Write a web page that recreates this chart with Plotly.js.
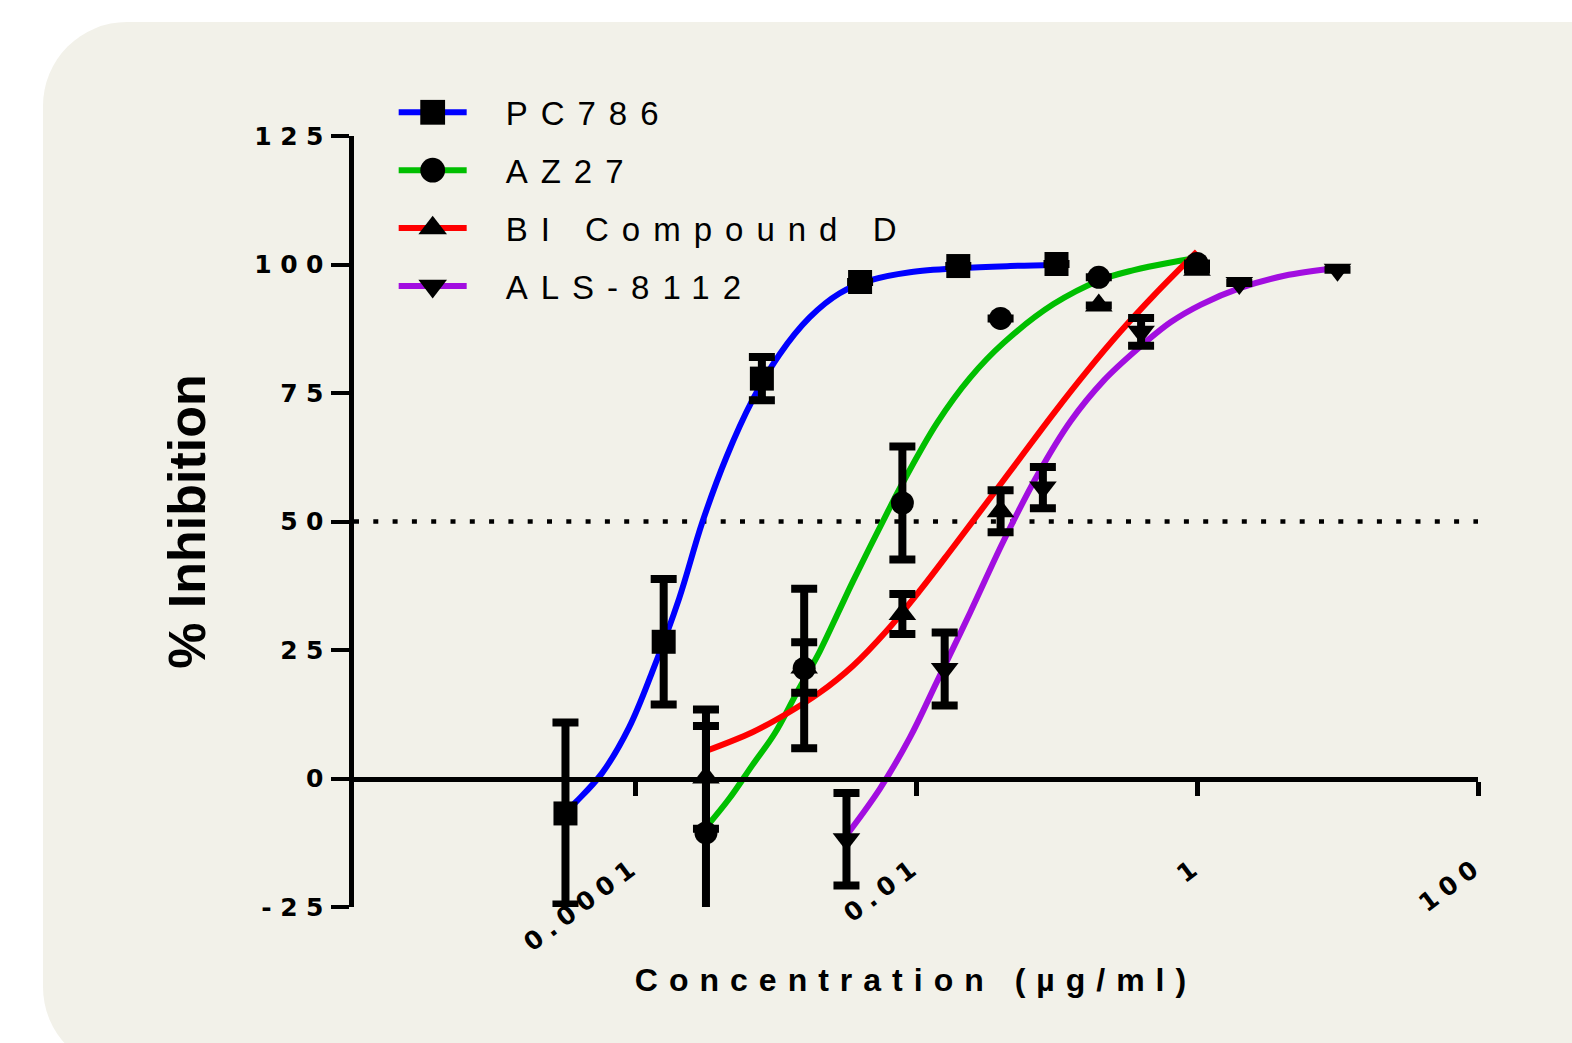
<!DOCTYPE html>
<html>
<head>
<meta charset="utf-8">
<script src="https://cdn.plot.ly/plotly-3.0.1.min.js"></script>
<style>
  html, body { margin: 0; padding: 0; background: #ffffff; overflow: hidden; }
  #panel { position: absolute; left: 43px; top: 22px; width: 1620px; height: 1049px; border-radius: 84px; background: #f2f1e9; }
  #chart { position: absolute; left: 0; top: 0; width: 1572px; height: 1043px; }
  .ytick text, text.ytick { letter-spacing: 8.5px; }
  .xtick text, text.xtick { letter-spacing: 7px; }
  .legendtext { letter-spacing: 13px; }
  .xtitle { letter-spacing: 11px; }
</style>
</head>
<body>
<div id="panel"></div>
<div id="chart"></div>
<script>
// ---- series meta ----
const seriesNames = ['PC786', 'AZ27', 'BI Compound D', 'ALS-8112'];
const seriesColors = ['#0000ff', '#00bf00', '#ff0000', '#a20ee0'];
const seriesSymbols = ['square', 'circle', 'triangle-up', 'triangle-down'];

// ---- measured points (concentration µg/ml, % inhibition, SEM) ----
const pc786X = [3.2e-5, 1.6e-4, 8e-4, 4e-3, 0.02, 0.1];
const pc786Y = [-6.8, 26.6, 77.8, 96.6, 99.7, 100.1];
const pc786Err = [17.7, 12.2, 4.2, null, null, null];

const az27X = [3.2e-4, 1.6e-3, 8e-3, 0.04, 0.2, 1.0];
const az27Y = [-10.6, 21.4, 53.6, 89.5, 97.5, 100.2];
const az27Err = [24, 15.5, 11, null, null, null];

const biX = [3.2e-4, 1.6e-3, 8e-3, 0.04, 0.2, 1.0];
const biY = [0.2, 21.6, 32.0, 52.0, 92.0, 99.0];
const biErr = [10, 4.9, 3.9, 4.1, null, null];

const alsX = [3.2e-3, 0.016, 0.08, 0.4, 2, 10];
const alsY = [-11.8, 21.3, 56.6, 86.9, 96.4, 99.0];
const alsErr = [9, 7.1, 4.0, 2.7, null, null];

// ---- fitted curves ----
const pc786FitX = [3.11e-5, 3.79e-5, 5.81e-5, 9.06e-5, 1.32e-4, 2.06e-4, 3.01e-4, 4.47e-4, 6.85e-4, 1.068e-3, 1.749e-3, 2.864e-3, 4.69e-3, 9.06e-3, 0.0206, 0.0469, 0.0984];
const pc786FitY = [-6.9, -4.6, 1.0, 9.9, 20.6, 35.0, 49.8, 62.5, 73.6, 82.5, 89.7, 94.4, 96.9, 98.5, 99.3, 99.7, 99.9];

const az27FitX = [3.16e-4, 4.69e-4, 6.85e-4, 9.84e-4, 1.413e-3, 2.062e-3, 2.864e-3, 3.55e-3, 6.21e-3, 8.07e-3, 0.01413, 0.0243, 0.0418, 0.0952, 0.2062, 0.355, 0.621, 0.984];
const az27FitY = [-9.7, -3.9, 2.6, 8.7, 16.6, 24.7, 32.9, 38.3, 51.6, 57.6, 69.2, 78.0, 84.7, 92.3, 97.0, 98.9, 100.3, 101.2];

const biFitX = [3.16e-4, 6.85e-4, 1.199e-3, 2.062e-3, 3.55e-3, 6.21e-3, 0.01068, 0.01837, 0.03214, 0.0553, 0.0952, 0.1665, 0.2864, 0.493, 1.0];
const biFitY = [5.3, 9.0, 12.6, 16.7, 21.9, 28.8, 36.6, 45.0, 53.8, 62.4, 71.0, 79.4, 87.0, 94.0, 102.5];

const alsFitX = [3.11e-3, 5.53e-3, 9.06e-3, 0.01413, 0.0243, 0.0418, 0.0731, 0.1259, 0.2166, 0.379, 0.652, 1.068, 2.062, 4.18, 10];
const alsFitY = [-11.5, -2.0, 8.0, 18.9, 32.3, 46.1, 59.0, 69.5, 77.4, 83.6, 88.8, 92.2, 95.5, 97.8, 99.3];

// ---- axes ----
const yTickVals = [-25, 0, 25, 50, 75, 100, 125];
const yTickText = ['-25', '0', '25', '50', '75', '100', '125'];
const xTickVals = [1e-4, 1e-2, 1, 100];
const xTickText = ['0.0001', '0.01', '1', '100'];
const refLine = 50;

const points = [
  [pc786X, pc786Y, pc786Err],
  [az27X, az27Y, az27Err],
  [biX, biY, biErr],
  [alsX, alsY, alsErr]
];
const fits = [
  [pc786FitX, pc786FitY],
  [az27FitX, az27FitY],
  [biFitX, biFitY],
  [alsFitX, alsFitY]
];
const markerSizes = [24, 23, 24, 24];

const traces = [];
fits.forEach((f, i) => {
  traces.push({
    type: 'scatter', mode: 'lines+markers',
    x: f[0], y: f[1],
    name: seriesNames[i], legendgroup: 'g' + i,
    line: { color: seriesColors[i], width: 6, shape: 'spline', smoothing: 1 },
    marker: { symbol: seriesSymbols[i], color: '#000000', size: 24, opacity: 0 },
    hoverinfo: 'skip'
  });
});
points.forEach((p, i) => {
  traces.push({
    type: 'scatter', mode: 'markers',
    x: p[0], y: p[1],
    name: seriesNames[i], legendgroup: 'g' + i, showlegend: false,
    marker: { symbol: seriesSymbols[i], color: '#000000', size: markerSizes[i] },
    error_y: { type: 'data', array: p[2], visible: true, color: '#000000', thickness: 8, width: 13 }
  });
});

const tickFont = { family: 'DejaVu Sans', size: 25, weight: 'bold', color: '#000000' };

const layout = {
  width: 1572, height: 1043,
  margin: { l: 354, r: 94, t: 136, b: 136 },
  paper_bgcolor: 'rgba(0,0,0,0)',
  plot_bgcolor: 'rgba(0,0,0,0)',
  showlegend: true,
  legend: {
    x: 0.0353, xanchor: 'left', y: 1.067, yanchor: 'top',
    bgcolor: 'rgba(0,0,0,0)', borderwidth: 0,
    font: { family: 'Liberation Sans', size: 33, color: '#000000' },
    itemwidth: 68, tracegroupgap: 12
  },
  xaxis: {
    type: 'log', range: [-6, 2],
    anchor: 'free', position: 1 / 6,
    showline: true, linewidth: 5, linecolor: '#000000',
    showgrid: false, zeroline: false,
    ticks: 'outside', ticklen: 14, tickwidth: 5, tickcolor: '#000000',
    tickmode: 'array', tickvals: xTickVals, ticktext: xTickText,
    tickangle: -37, tickfont: tickFont, ticklabelstandoff: 46,
    title: { text: 'Concentration (µg/ml)', standoff: 12,
             font: { family: 'Liberation Sans', size: 32, weight: 'bold', color: '#000000' } }
  },
  yaxis: {
    range: [-25, 125],
    showline: true, linewidth: 5, linecolor: '#000000',
    showgrid: false, zeroline: false,
    ticks: 'outside', ticklen: 18, tickwidth: 4, tickcolor: '#000000',
    tickmode: 'array', tickvals: yTickVals, ticktext: yTickText,
    tickfont: tickFont, ticklabelstandoff: -6,
    title: { text: '% Inhibition', standoff: 34,
             font: { family: 'Liberation Sans', size: 52, weight: 'bold', color: '#000000' } }
  },
  shapes: [{
    type: 'line', xref: 'paper', x0: 0, x1: 1, yref: 'y', y0: refLine, y1: refLine,
    line: { color: '#000000', width: 4.5, dash: '5px,14.3px' }, layer: 'below'
  }]
};

Plotly.newPlot('chart', traces, layout, { staticPlot: true, displayModeBar: false }).then(gd => {
  gd.querySelectorAll('.legend [clip-path]').forEach(e => e.removeAttribute('clip-path'));
  gd.querySelectorAll('.legend .legendpoints path.scatterpts').forEach(p => {
    const t = p.getAttribute('transform') || '';
    p.setAttribute('transform', t + ' scale(1.55)');
    p.style.opacity = '1';
    p.style.fill = 'rgb(0,0,0)';
    p.style.fillOpacity = '1';
  });
  gd.querySelectorAll('.legend text.legendtext').forEach(t => {
    const x = parseFloat(t.getAttribute('x') || '0');
    t.setAttribute('x', x + 34);
  });
});
</script>
</body>
</html>
